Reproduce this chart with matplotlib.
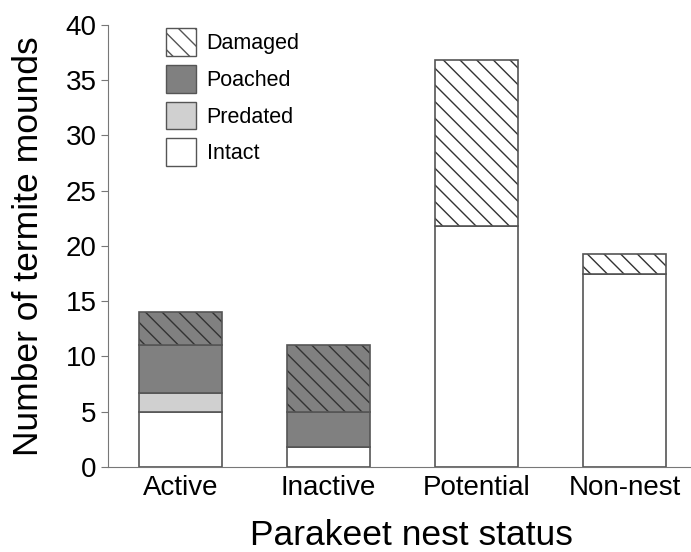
import matplotlib
matplotlib.use("Agg")
import matplotlib.pyplot as plt
from matplotlib.patches import Patch

categories = ["Active", "Inactive", "Potential", "Non-nest"]
intact = [5.0, 1.8, 21.8, 17.5]
predated = [1.7, 0.0, 0.0, 0.0]
poached = [4.3, 3.2, 0.0, 0.0]
damaged = [3.0, 6.0, 15.0, 1.8]
series_labels = ["Damaged", "Poached", "Predated", "Intact"]

plt.rcParams['font.family'] = ['Liberation Sans', 'DejaVu Sans']
plt.rcParams['hatch.linewidth'] = 1.0

fig = plt.figure(figsize=(6.91, 5.52), dpi=100)
ax = fig.add_axes([0.156, 0.154, 0.844, 0.801])

x = list(range(len(categories)))
w = 0.56
edge = "#555555"
c_poached = "#808080"
c_predated = "#d0d0d0"
damaged_faces = [c_poached, c_poached, "white", "white"]
HATCH = "\\\\"

b1 = [i for i in intact]
ax.bar(x, intact, w, color="white", edgecolor=edge, linewidth=1.2)
ax.bar(x, predated, w, bottom=b1, color=c_predated, edgecolor=edge, linewidth=1.2)
b2 = [a + b for a, b in zip(b1, predated)]
ax.bar(x, poached, w, bottom=b2, color=c_poached, edgecolor=edge, linewidth=1.2)
b3 = [a + b for a, b in zip(b2, poached)]
for i in x:
    ax.bar(i, damaged[i], w, bottom=b3[i], color=damaged_faces[i], edgecolor="#333333",
           hatch=HATCH, linewidth=0)
    ax.bar(i, damaged[i], w, bottom=b3[i], fill=False, edgecolor=edge, linewidth=1.2)

ax.set_xlim(-0.49, 3.45)
ax.set_ylim(0, 40)
ax.set_yticks(range(0, 41, 5))
ax.set_xticks(x)
ax.set_xticklabels(categories)
ax.tick_params(axis='y', labelsize=20, direction='out', length=5, color="#777777", pad=3)
ax.tick_params(axis='x', labelsize=20, length=0, pad=6)
for s in ["top", "right"]:
    ax.spines[s].set_visible(False)
for s in ["left", "bottom"]:
    ax.spines[s].set_color("#777777")
ax.set_ylabel("Number of termite mounds", fontsize=25.5)
ax.yaxis.set_label_coords(-0.108, 0.5, transform=ax.transAxes)
ax.set_xlabel("Parakeet nest status", fontsize=25.5)
ax.xaxis.set_label_coords(0.52, -0.118, transform=ax.transAxes)
ax.xaxis.label.set_va("top")

handles = [
    Patch(facecolor="white", edgecolor=edge, hatch=HATCH),
    Patch(facecolor=c_poached, edgecolor=edge),
    Patch(facecolor=c_predated, edgecolor=edge),
    Patch(facecolor="white", edgecolor=edge),
]
leg = ax.legend(handles, series_labels, loc="upper left", bbox_to_anchor=(0.0995, 0.992),
                frameon=False, fontsize=15.5, handlelength=1.4, handleheight=1.6,
                labelspacing=0.42, handletextpad=0.5, borderpad=0, borderaxespad=0)

fig.savefig("out.png", dpi=100)
